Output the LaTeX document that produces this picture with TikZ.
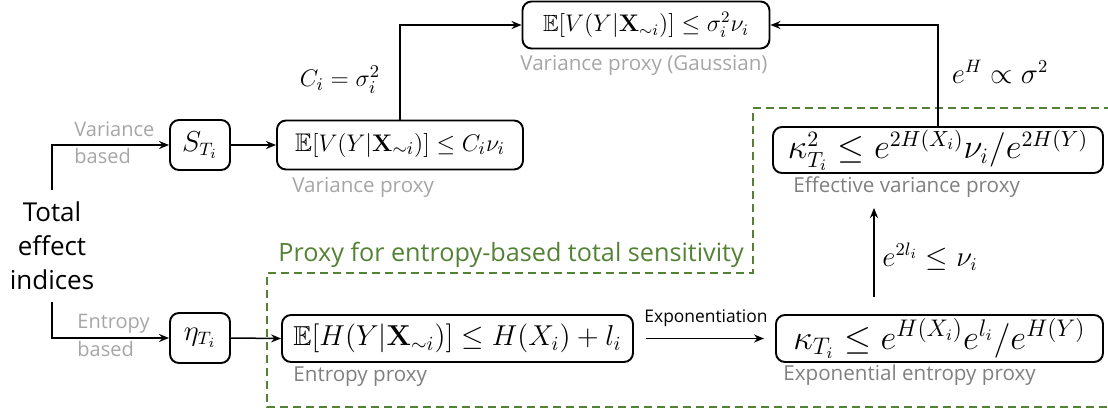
\documentclass[tikz,border=0pt]{standalone}
\usepackage{amsmath,amssymb}
\usepackage[no-math]{fontspec}
\setmainfont{Open Sans}
\usetikzlibrary{arrows.meta}
\definecolor{lgray}{HTML}{A6A6A6}
\definecolor{dgray}{HTML}{808080}
\definecolor{pgreen}{HTML}{548235}
\newcommand{\mfs}{\fontsize{13.5}{16}\selectfont}
\newcommand{\msz}[1]{\fontsize{#1}{#1}\selectfont}
\begin{document}
\begin{tikzpicture}[x=0.5pt,y=-0.5pt,
  mbox/.style={draw, rounded corners=4.5pt, line width=0.95pt, inner sep=0pt, font=\mfs},
  conn/.style={line width=0.75pt, -{Stealth[length=5pt,width=4pt]}},
  glab/.style={font=\fontsize{10.3}{12}\selectfont, inner sep=0pt},
  smalllab/.style={font=\fontsize{10}{12}\selectfont, text=lgray, inner sep=0pt, anchor=west},
  mlab/.style={font=\mfs, inner sep=0pt}]
\useasboundingbox (0,0) rectangle (1108,412);
% green dashed region
\draw[pgreen, line width=0.75pt, dash pattern=on 4pt off 2.5pt]
  (1112,108) -- (753,108) -- (753,273) -- (267,273) -- (267,407) -- (1112,407);
\node[anchor=west, text=pgreen, font=\fontsize{12.6}{14}\selectfont, inner sep=0pt] (glabel) at (278,255) {Proxy for entropy-based total sensitivity};
% left text
\node[align=center, font=\fontsize{13}{17}\selectfont, inner xsep=0pt, inner ysep=6pt] (tot) at (52,246) {Total\\effect\\indices};
% boxes
\node[mbox, minimum width=30pt, minimum height=25pt] (S) at (200,145) {$S_{T_i}$};
\node[mbox, minimum width=30pt, minimum height=25pt] (eta) at (200,338) {$\eta_{T_i}$};
\node[mbox, font=\msz{12.75}, minimum width=123pt, minimum height=24.5pt] (var) at (400,145) {$\mathbb{E}[V(Y|\mathbf{X}_{\sim i})] \leq C_i\nu_i$};
\node[mbox, font=\msz{11.7}, minimum width=123.5pt, minimum height=23.5pt] (top) at (646,25) {$\mathbb{E}[V(Y|\mathbf{X}_{\sim i})] \leq \sigma_i^2\nu_i$};
\node[mbox, font=\msz{13.7}, minimum width=175.5pt, minimum height=23.5pt] (ent) at (457.5,338.5) {$\mathbb{E}[H(Y|\mathbf{X}_{\sim i})] \leq H(X_i) + l_i$};
\node[mbox, font=\msz{17}, minimum width=163.5pt, minimum height=23.5pt] (exp) at (939.5,338.5) {$\kappa_{T_i} \leq e^{H(X_i)}e^{l_i}/e^{H(Y)}$};
\node[mbox, font=\msz{16.2}, minimum width=165pt, minimum height=23pt] (eff) at (938,150) {$\kappa_{T_i}^2 \leq e^{2H(X_i)}\nu_i/e^{2H(Y)}$};
% gray labels
\node[glab, text=lgray] (toplab) at (644,65) {Variance proxy (Gaussian)};
\node[glab, text=lgray, anchor=west] (varlab) at (292,187) {Variance proxy};
\node[glab, text=dgray, anchor=west] (entlab) at (293,377) {Entropy proxy};
\node[glab, text=dgray, anchor=west] (explab) at (783,375) {Exponential entropy proxy};
\node[glab, text=dgray, anchor=west] (efflab) at (793,187) {Effective variance proxy};
\node[smalllab] (vb1) at (74,129) {Variance};
\node[smalllab] (vb2) at (74,156) {based};
\node[smalllab] (eb1) at (77,324) {Entropy};
\node[smalllab] (eb2) at (77,349) {based};
% connector labels
\node[mlab, font=\msz{12.7}] (cl) at (340,80) {$C_i = \sigma_i^2$};
\node[mlab] (hl) at (1000,72) {$e^H \propto \sigma^2$};
\node[mlab] (ll) at (930,257) {$e^{2l_i} \leq \nu_i$};
\node[font=\fontsize{8.7}{10}\selectfont, inner sep=0pt] (expo) at (706,318) {Exponentiation};
% connectors
\draw[conn] (tot.north) |- (S.west);
\draw[conn] (tot.south) |- (eta.west);
\draw[conn] (S.east) -- (var.west);
\draw[conn] (eta.east) -- (ent.west);
\draw[conn] (var.north) |- (top.west);
\draw[conn] (eff.north) |- (top.east);
\draw[conn, shorten <=6pt, shorten >=5.5pt] (ent.east) -- (exp.west);
\draw[conn, shorten <=8.5pt, shorten >=17pt] ([xshift=-32.75pt]exp.north) -- ([xshift=-32.75pt]exp.north |- eff.south);
\end{tikzpicture}
\end{document}
